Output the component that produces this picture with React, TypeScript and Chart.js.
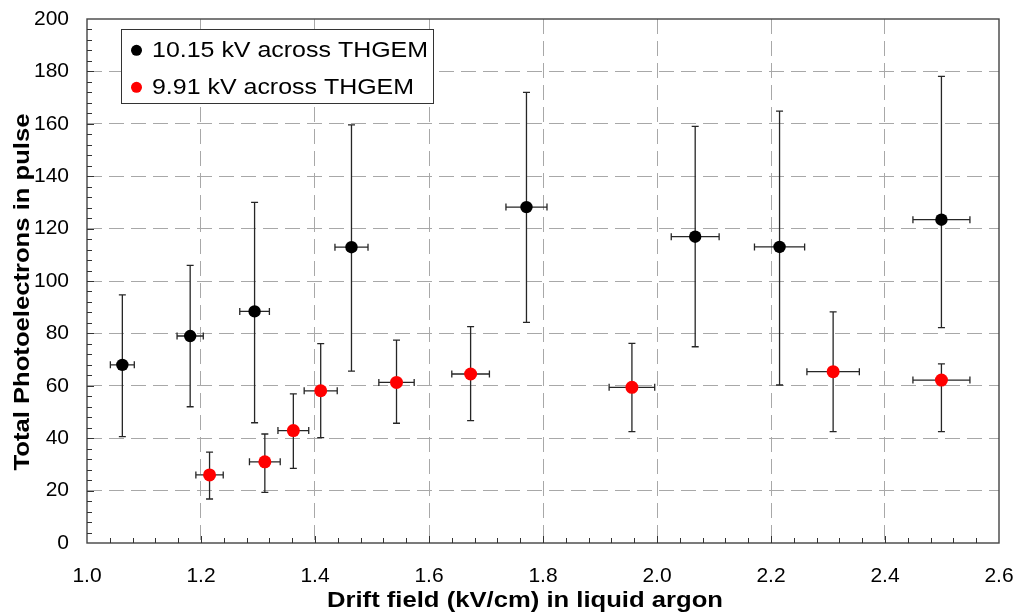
import React, { useEffect, useRef } from "react";
import { Chart, registerables } from "chart.js";

Chart.register(...registerables);

const xAxisTitle = "Drift field (kV/cm) in liquid argon";
const yAxisTitle = "Total Photoelectrons in pulse";
const seriesNames = ["10.15 kV across THGEM", "9.91 kV across THGEM"];

// 10.15 kV series
const fieldHigh = [1.062, 1.181, 1.294, 1.464, 1.771, 2.067, 2.215, 2.499];
const peHigh = [68.0, 79.0, 88.4, 112.9, 128.2, 116.9, 113.0, 123.4];
const peHighUpper = [94.7, 106.0, 130.0, 159.6, 172.0, 159.0, 164.8, 178.1];
const peHighLower = [40.6, 52.0, 45.9, 65.6, 84.2, 74.9, 60.3, 82.2];
const fieldHighErr = [0.021, 0.023, 0.026, 0.029, 0.036, 0.042, 0.044, 0.05];

// 9.91 kV series
const fieldLow = [1.215, 1.312, 1.362, 1.41, 1.543, 1.673, 1.956, 2.309, 2.499];
const peLow = [26.0, 31.0, 42.9, 58.1, 61.3, 64.5, 59.4, 65.4, 62.2];
const peLowUpper = [34.7, 41.6, 56.9, 76.1, 77.4, 82.6, 76.2, 88.2, 68.4];
const peLowLower = [16.8, 19.3, 28.5, 40.2, 45.7, 46.7, 42.5, 42.5, 42.5];
const fieldLowErr = [0.024, 0.027, 0.027, 0.029, 0.031, 0.033, 0.04, 0.046, 0.05];

const xMin = 1.0;
const xMax = 2.6;
const xStep = 0.2;
const yMin = 0;
const yMax = 200;
const yStep = 20;

const FONT = "'Liberation Sans', Arial, sans-serif";

function buildPoints(xs: number[], ys: number[], up: number[], lo: number[], xe: number[]) {
  return xs.map((x, i) => ({ x, y: ys[i], yHi: up[i], yLo: lo[i], xErr: xe[i] }));
}

function stretchedText(
  ctx: CanvasRenderingContext2D,
  text: string,
  x: number,
  y: number,
  targetWidth: number,
  align: CanvasTextAlign,
  rotate = 0
) {
  const w = ctx.measureText(text).width;
  const s = targetWidth / w;
  ctx.save();
  ctx.translate(x, y);
  if (rotate) ctx.rotate(rotate);
  ctx.scale(s, 1);
  ctx.textAlign = align;
  ctx.textBaseline = "alphabetic";
  ctx.fillText(text, 0, 0);
  ctx.restore();
}

const errorBarPlugin = {
  id: "errorBarsAndFrame",
  beforeDatasetsDraw(chart: any) {
    const { ctx, chartArea, scales } = chart;
    const xs = scales.x;
    const ys = scales.y;

    // frame
    ctx.save();
    ctx.strokeStyle = "#444444";
    ctx.lineWidth = 1.4;
    ctx.strokeRect(chartArea.left, chartArea.top, chartArea.right - chartArea.left, chartArea.bottom - chartArea.top);

    // inward ticks
    ctx.strokeStyle = "#333333";
    ctx.lineWidth = 1;
    ctx.beginPath();
    const nx = Math.round((xMax - xMin) / 0.04);
    for (let i = 1; i < nx; i++) {
      const v = xMin + i * 0.04;
      const px = Math.round(xs.getPixelForValue(v)) + 0.5;
      const len = i % 5 === 0 ? 7 : 5;
      ctx.moveTo(px, chartArea.bottom);
      ctx.lineTo(px, chartArea.bottom - len);
    }
    const ny = Math.round((yMax - yMin) / 4);
    for (let i = 1; i < ny; i++) {
      const v = yMin + i * 4;
      const py = Math.round(ys.getPixelForValue(v)) + 0.5;
      const len = i % 5 === 0 ? 7 : 5;
      ctx.moveTo(chartArea.left, py);
      ctx.lineTo(chartArea.left + len, py);
    }
    ctx.stroke();

    // error bars
    ctx.strokeStyle = "#262626";
    ctx.lineWidth = 1.3;
    const cap = 3.5;
    chart.data.datasets.forEach((ds: any) => {
      ds.data.forEach((p: any) => {
        const px = xs.getPixelForValue(p.x);
        const py = ys.getPixelForValue(p.y);
        const pt = ys.getPixelForValue(p.yHi);
        const pb = ys.getPixelForValue(p.yLo);
        const pl = xs.getPixelForValue(p.x - p.xErr);
        const pr = xs.getPixelForValue(p.x + p.xErr);
        ctx.beginPath();
        ctx.moveTo(px, pt);
        ctx.lineTo(px, pb);
        ctx.moveTo(px - cap, pt);
        ctx.lineTo(px + cap, pt);
        ctx.moveTo(px - cap, pb);
        ctx.lineTo(px + cap, pb);
        ctx.moveTo(pl, py);
        ctx.lineTo(pr, py);
        ctx.moveTo(pl, py - cap);
        ctx.lineTo(pl, py + cap);
        ctx.moveTo(pr, py - cap);
        ctx.lineTo(pr, py + cap);
        ctx.stroke();
      });
    });
    ctx.restore();
  },
  afterDraw(chart: any) {
    const { ctx } = chart;
    ctx.save();
    ctx.fillStyle = "#000000";
    // axis titles
    ctx.font = `bold 22px ${FONT}`;
    stretchedText(ctx, xAxisTitle, 525, 607, 396, "center");
    stretchedText(ctx, yAxisTitle, 29, 292, 357, "center", -Math.PI / 2);

    // legend
    ctx.fillStyle = "#ffffff";
    ctx.fillRect(121, 29, 312, 74);
    ctx.strokeStyle = "#333333";
    ctx.lineWidth = 1;
    ctx.strokeRect(121.5, 29.5, 312, 74);
    const colors = ["#000000", "#ff0000"];
    const rowsY = [50.3, 87.3];
    const textW = [276, 262];
    ctx.font = `22px ${FONT}`;
    seriesNames.forEach((name, i) => {
      ctx.fillStyle = colors[i];
      ctx.beginPath();
      ctx.arc(136.5, rowsY[i], 5.5, 0, Math.PI * 2);
      ctx.fill();
      ctx.fillStyle = "#000000";
      stretchedText(ctx, name, 152, rowsY[i] + 7, textW[i], "left");
    });
    ctx.restore();
  },
};

export default function App() {
  const ref = useRef<HTMLCanvasElement>(null);

  useEffect(() => {
    const canvas = ref.current;
    if (!canvas) return;
    const edgeTransparent = (ctx: any) => {
      const n = ctx.scale.ticks.length;
      return ctx.index === 0 || ctx.index === n - 1 ? "rgba(0,0,0,0)" : "#a8a8a8";
    };
    const chart = new Chart(canvas, {
      type: "scatter",
      data: {
        datasets: [
          {
            label: seriesNames[0],
            data: buildPoints(fieldHigh, peHigh, peHighUpper, peHighLower, fieldHighErr),
            backgroundColor: "#000000",
            borderColor: "#000000",
            pointRadius: 6.2,
            borderWidth: 0,
          },
          {
            label: seriesNames[1],
            data: buildPoints(fieldLow, peLow, peLowUpper, peLowLower, fieldLowErr),
            backgroundColor: "#ff0000",
            borderColor: "#ff0000",
            pointRadius: 6.5,
            borderWidth: 0,
          },
        ],
      },
      options: {
        animation: false,
        responsive: false,
        maintainAspectRatio: false,
        layout: { padding: { left: 0, top: 19, right: 17, bottom: 0 } },
        plugins: {
          legend: { display: false },
          tooltip: { enabled: false },
        },
        scales: {
          x: {
            type: "linear",
            min: xMin,
            max: xMax,
            afterFit: (scale: any) => {
              scale.height = 70;
              scale.paddingLeft = 0;
              scale.paddingRight = 0;
            },
            ticks: {
              stepSize: xStep,
              padding: 21,
              color: "#000000",
              font: { family: FONT, size: 21 },
              maxRotation: 0,
              callback: (v: any) => Number(v).toFixed(1),
            },
            grid: {
              color: edgeTransparent,
              lineWidth: 1,
              drawTicks: false,
            },
            border: { display: false, dash: [15, 7] },
            title: { display: false },
          },
          y: {
            type: "linear",
            min: yMin,
            max: yMax,
            afterFit: (scale: any) => {
              scale.width = 87;
              scale.paddingTop = 0;
              scale.paddingBottom = 0;
            },
            ticks: {
              stepSize: yStep,
              padding: 18,
              color: "#000000",
              font: { family: FONT, size: 21 },
              callback: (v: any) => String(Math.round(Number(v))),
            },
            grid: {
              color: edgeTransparent,
              lineWidth: 1,
              drawTicks: false,
            },
            border: { display: false, dash: [15, 7] },
            title: { display: false },
          },
        },
      },
      plugins: [errorBarPlugin],
    });
    return () => chart.destroy();
  }, []);

  return (
    <div style={{ position: "fixed", left: 0, top: 0, width: 1016, height: 613, background: "#ffffff" }}>
      <canvas ref={ref} width={1016} height={613} style={{ display: "block", width: 1016, height: 613 }} />
    </div>
  );
}
